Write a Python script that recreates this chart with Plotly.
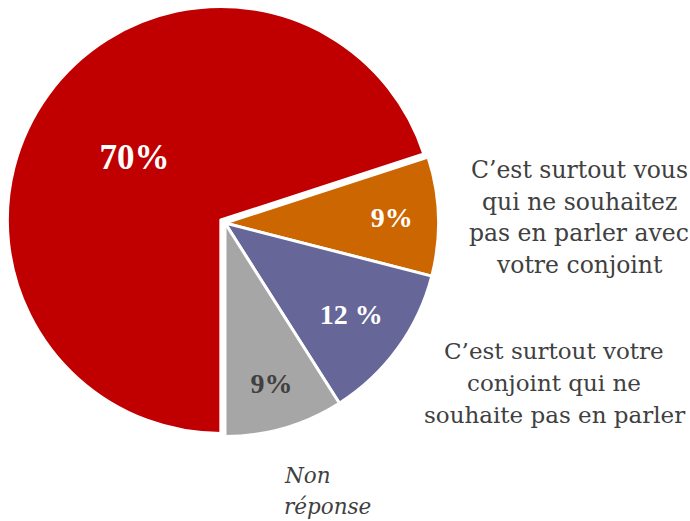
import plotly.graph_objects as go

categories = ["Autre", "C’est surtout vous qui ne souhaitez pas en parler avec votre conjoint",
              "C’est surtout votre conjoint qui ne souhaite pas en parler", "Non réponse"]
values = [70, 9, 12, 9]
slice_text = ["70%", "9%", "12 %", "9%"]
colors = ["#C00000", "#CC6600", "#666699", "#A6A6A6"]
text_colors = ["white", "white", "white", "#404040"]
text_sizes = [35, 28, 28, 28]

label_vous = ["C’est surtout vous", "qui ne souhaitez", "pas en parler avec", "votre conjoint"]
label_conjoint = ["C’est surtout votre", "conjoint qui ne", "souhaite pas en parler"]
label_nr = ["Non", "réponse"]

SERIF = "DejaVu Serif"
W, H = 690, 521

CX, CY, R, PULL = 225, 223, 213.5, 0.024
half = R * (1 + PULL)

fig = go.Figure(go.Pie(
    labels=categories,
    values=values,
    text=slice_text,
    textinfo="text",
    textposition="inside",
    insidetextorientation="horizontal",
    insidetextfont=dict(color=text_colors, size=text_sizes, family="Liberation Serif", weight="bold"),
    marker=dict(colors=colors, line=dict(color="white", width=3)),
    sort=False,
    direction="clockwise",
    rotation=180,
    pull=[PULL, 0, 0, 0],
    domain=dict(x=[(CX - half) / W, (CX + half) / W],
                y=[1 - (CY + half) / H, 1 - (CY - half) / H]),
    showlegend=False,
    hoverinfo="label+percent",
))


def add_block(lines, xc, y0, dy, size, anchor="center", italic=False):
    for i, line in enumerate(lines):
        txt = f"<i>{line}</i>" if italic else line
        fig.add_annotation(text=txt, x=xc / W, y=1 - (y0 + i * dy) / H,
                           xref="paper", yref="paper", showarrow=False,
                           font=dict(family=SERIF, size=size, color="#404040"),
                           xanchor=anchor, yanchor="middle")


add_block(label_vous, 579, 170, 31.7, 23.5)
add_block(label_conjoint, 554, 351, 32, 23)
add_block(label_nr, 282, 475, 31, 21.5, anchor="left", italic=True)

fig.update_layout(
    width=W, height=H,
    margin=dict(l=0, r=0, t=0, b=0),
    paper_bgcolor="white", plot_bgcolor="white",
)

fig.write_html("out.html", config={"displayModeBar": False},
               post_script="document.body.style.margin='0';")
